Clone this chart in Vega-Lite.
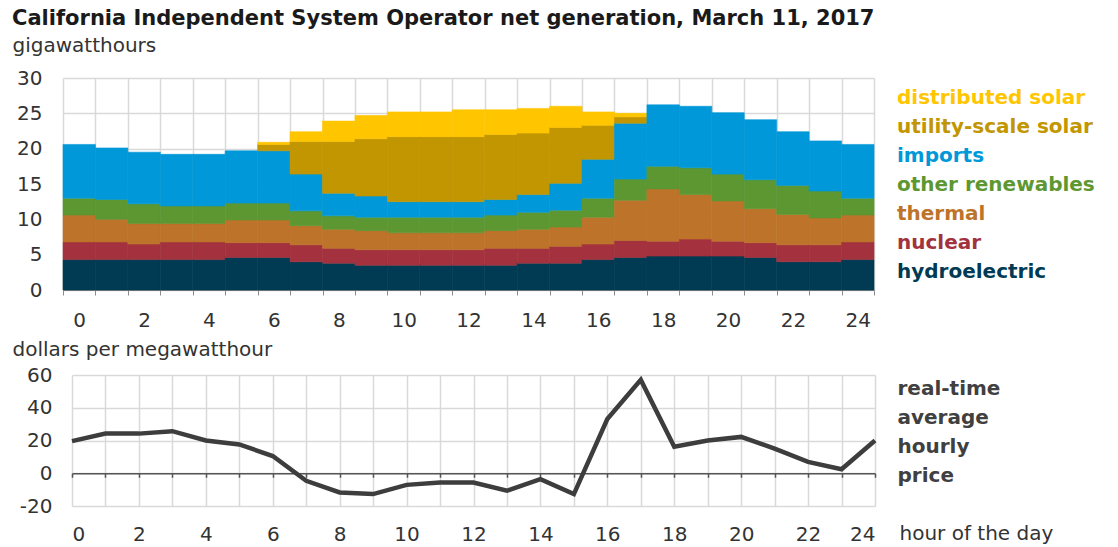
{
  "$schema": "https://vega.github.io/schema/vega-lite/v6.json",
  "padding": {"left": 12, "top": 8, "right": 5, "bottom": 0},
  "background": "white",
  "config": {"view": {"stroke": null}, "font": "DejaVu Sans"},
  "title": {"text": "California Independent System Operator net generation, March 11, 2017", "anchor": "start", "fontSize": 21, "fontWeight": "bold", "font": "DejaVu Sans", "color": "#1a1a1a", "offset": 6},
  "spacing": 9,
  "datasets": {
    "gen": [
      {"hour": 0, "source": "hydroelectric", "layer": 1, "gwh": 4.3}, {"hour": 0, "source": "nuclear", "layer": 2, "gwh": 2.5}, {"hour": 0, "source": "thermal", "layer": 3, "gwh": 3.8}, {"hour": 0, "source": "other renewables", "layer": 4, "gwh": 2.4}, {"hour": 0, "source": "imports", "layer": 5, "gwh": 7.6},
      {"hour": 1, "source": "hydroelectric", "layer": 1, "gwh": 4.3}, {"hour": 1, "source": "nuclear", "layer": 2, "gwh": 2.5}, {"hour": 1, "source": "thermal", "layer": 3, "gwh": 3.2}, {"hour": 1, "source": "other renewables", "layer": 4, "gwh": 2.8}, {"hour": 1, "source": "imports", "layer": 5, "gwh": 7.3},
      {"hour": 2, "source": "hydroelectric", "layer": 1, "gwh": 4.3}, {"hour": 2, "source": "nuclear", "layer": 2, "gwh": 2.2}, {"hour": 2, "source": "thermal", "layer": 3, "gwh": 2.9}, {"hour": 2, "source": "other renewables", "layer": 4, "gwh": 2.8}, {"hour": 2, "source": "imports", "layer": 5, "gwh": 7.3},
      {"hour": 3, "source": "hydroelectric", "layer": 1, "gwh": 4.3}, {"hour": 3, "source": "nuclear", "layer": 2, "gwh": 2.5}, {"hour": 3, "source": "thermal", "layer": 3, "gwh": 2.6}, {"hour": 3, "source": "other renewables", "layer": 4, "gwh": 2.5}, {"hour": 3, "source": "imports", "layer": 5, "gwh": 7.3},
      {"hour": 4, "source": "hydroelectric", "layer": 1, "gwh": 4.3}, {"hour": 4, "source": "nuclear", "layer": 2, "gwh": 2.5}, {"hour": 4, "source": "thermal", "layer": 3, "gwh": 2.6}, {"hour": 4, "source": "other renewables", "layer": 4, "gwh": 2.5}, {"hour": 4, "source": "imports", "layer": 5, "gwh": 7.3},
      {"hour": 5, "source": "hydroelectric", "layer": 1, "gwh": 4.6}, {"hour": 5, "source": "nuclear", "layer": 2, "gwh": 2.1}, {"hour": 5, "source": "thermal", "layer": 3, "gwh": 3.2}, {"hour": 5, "source": "other renewables", "layer": 4, "gwh": 2.4}, {"hour": 5, "source": "imports", "layer": 5, "gwh": 7.4},
      {"hour": 6, "source": "hydroelectric", "layer": 1, "gwh": 4.6}, {"hour": 6, "source": "nuclear", "layer": 2, "gwh": 2.1}, {"hour": 6, "source": "thermal", "layer": 3, "gwh": 3.2}, {"hour": 6, "source": "other renewables", "layer": 4, "gwh": 2.4}, {"hour": 6, "source": "imports", "layer": 5, "gwh": 7.4}, {"hour": 6, "source": "utility-scale solar", "layer": 6, "gwh": 0.9}, {"hour": 6, "source": "distributed solar", "layer": 7, "gwh": 0.3},
      {"hour": 7, "source": "hydroelectric", "layer": 1, "gwh": 4.0}, {"hour": 7, "source": "nuclear", "layer": 2, "gwh": 2.4}, {"hour": 7, "source": "thermal", "layer": 3, "gwh": 2.7}, {"hour": 7, "source": "other renewables", "layer": 4, "gwh": 2.1}, {"hour": 7, "source": "imports", "layer": 5, "gwh": 5.2}, {"hour": 7, "source": "utility-scale solar", "layer": 6, "gwh": 4.6}, {"hour": 7, "source": "distributed solar", "layer": 7, "gwh": 1.4},
      {"hour": 8, "source": "hydroelectric", "layer": 1, "gwh": 3.8}, {"hour": 8, "source": "nuclear", "layer": 2, "gwh": 2.1}, {"hour": 8, "source": "thermal", "layer": 3, "gwh": 2.7}, {"hour": 8, "source": "other renewables", "layer": 4, "gwh": 1.9}, {"hour": 8, "source": "imports", "layer": 5, "gwh": 3.2}, {"hour": 8, "source": "utility-scale solar", "layer": 6, "gwh": 7.3}, {"hour": 8, "source": "distributed solar", "layer": 7, "gwh": 2.9},
      {"hour": 9, "source": "hydroelectric", "layer": 1, "gwh": 3.5}, {"hour": 9, "source": "nuclear", "layer": 2, "gwh": 2.2}, {"hour": 9, "source": "thermal", "layer": 3, "gwh": 2.7}, {"hour": 9, "source": "other renewables", "layer": 4, "gwh": 1.9}, {"hour": 9, "source": "imports", "layer": 5, "gwh": 3.0}, {"hour": 9, "source": "utility-scale solar", "layer": 6, "gwh": 8.1}, {"hour": 9, "source": "distributed solar", "layer": 7, "gwh": 3.3},
      {"hour": 10, "source": "hydroelectric", "layer": 1, "gwh": 3.5}, {"hour": 10, "source": "nuclear", "layer": 2, "gwh": 2.2}, {"hour": 10, "source": "thermal", "layer": 3, "gwh": 2.4}, {"hour": 10, "source": "other renewables", "layer": 4, "gwh": 2.2}, {"hour": 10, "source": "imports", "layer": 5, "gwh": 2.2}, {"hour": 10, "source": "utility-scale solar", "layer": 6, "gwh": 9.2}, {"hour": 10, "source": "distributed solar", "layer": 7, "gwh": 3.5},
      {"hour": 11, "source": "hydroelectric", "layer": 1, "gwh": 3.5}, {"hour": 11, "source": "nuclear", "layer": 2, "gwh": 2.2}, {"hour": 11, "source": "thermal", "layer": 3, "gwh": 2.4}, {"hour": 11, "source": "other renewables", "layer": 4, "gwh": 2.2}, {"hour": 11, "source": "imports", "layer": 5, "gwh": 2.2}, {"hour": 11, "source": "utility-scale solar", "layer": 6, "gwh": 9.2}, {"hour": 11, "source": "distributed solar", "layer": 7, "gwh": 3.5},
      {"hour": 12, "source": "hydroelectric", "layer": 1, "gwh": 3.5}, {"hour": 12, "source": "nuclear", "layer": 2, "gwh": 2.2}, {"hour": 12, "source": "thermal", "layer": 3, "gwh": 2.4}, {"hour": 12, "source": "other renewables", "layer": 4, "gwh": 2.2}, {"hour": 12, "source": "imports", "layer": 5, "gwh": 2.2}, {"hour": 12, "source": "utility-scale solar", "layer": 6, "gwh": 9.2}, {"hour": 12, "source": "distributed solar", "layer": 7, "gwh": 3.8},
      {"hour": 13, "source": "hydroelectric", "layer": 1, "gwh": 3.5}, {"hour": 13, "source": "nuclear", "layer": 2, "gwh": 2.4}, {"hour": 13, "source": "thermal", "layer": 3, "gwh": 2.5}, {"hour": 13, "source": "other renewables", "layer": 4, "gwh": 2.2}, {"hour": 13, "source": "imports", "layer": 5, "gwh": 2.2}, {"hour": 13, "source": "utility-scale solar", "layer": 6, "gwh": 9.2}, {"hour": 13, "source": "distributed solar", "layer": 7, "gwh": 3.5},
      {"hour": 14, "source": "hydroelectric", "layer": 1, "gwh": 3.8}, {"hour": 14, "source": "nuclear", "layer": 2, "gwh": 2.1}, {"hour": 14, "source": "thermal", "layer": 3, "gwh": 2.7}, {"hour": 14, "source": "other renewables", "layer": 4, "gwh": 2.4}, {"hour": 14, "source": "imports", "layer": 5, "gwh": 2.5}, {"hour": 14, "source": "utility-scale solar", "layer": 6, "gwh": 8.7}, {"hour": 14, "source": "distributed solar", "layer": 7, "gwh": 3.5},
      {"hour": 15, "source": "hydroelectric", "layer": 1, "gwh": 3.8}, {"hour": 15, "source": "nuclear", "layer": 2, "gwh": 2.4}, {"hour": 15, "source": "thermal", "layer": 3, "gwh": 2.7}, {"hour": 15, "source": "other renewables", "layer": 4, "gwh": 2.4}, {"hour": 15, "source": "imports", "layer": 5, "gwh": 3.8}, {"hour": 15, "source": "utility-scale solar", "layer": 6, "gwh": 7.9}, {"hour": 15, "source": "distributed solar", "layer": 7, "gwh": 3.0},
      {"hour": 16, "source": "hydroelectric", "layer": 1, "gwh": 4.3}, {"hour": 16, "source": "nuclear", "layer": 2, "gwh": 2.2}, {"hour": 16, "source": "thermal", "layer": 3, "gwh": 3.8}, {"hour": 16, "source": "other renewables", "layer": 4, "gwh": 2.7}, {"hour": 16, "source": "imports", "layer": 5, "gwh": 5.5}, {"hour": 16, "source": "utility-scale solar", "layer": 6, "gwh": 4.8}, {"hour": 16, "source": "distributed solar", "layer": 7, "gwh": 1.9},
      {"hour": 17, "source": "hydroelectric", "layer": 1, "gwh": 4.6}, {"hour": 17, "source": "nuclear", "layer": 2, "gwh": 2.4}, {"hour": 17, "source": "thermal", "layer": 3, "gwh": 5.7}, {"hour": 17, "source": "other renewables", "layer": 4, "gwh": 3.0}, {"hour": 17, "source": "imports", "layer": 5, "gwh": 7.9}, {"hour": 17, "source": "utility-scale solar", "layer": 6, "gwh": 0.9}, {"hour": 17, "source": "distributed solar", "layer": 7, "gwh": 0.5},
      {"hour": 18, "source": "hydroelectric", "layer": 1, "gwh": 4.8}, {"hour": 18, "source": "nuclear", "layer": 2, "gwh": 2.1}, {"hour": 18, "source": "thermal", "layer": 3, "gwh": 7.4}, {"hour": 18, "source": "other renewables", "layer": 4, "gwh": 3.2}, {"hour": 18, "source": "imports", "layer": 5, "gwh": 8.7},
      {"hour": 19, "source": "hydroelectric", "layer": 1, "gwh": 4.8}, {"hour": 19, "source": "nuclear", "layer": 2, "gwh": 2.4}, {"hour": 19, "source": "thermal", "layer": 3, "gwh": 6.3}, {"hour": 19, "source": "other renewables", "layer": 4, "gwh": 3.8}, {"hour": 19, "source": "imports", "layer": 5, "gwh": 8.7},
      {"hour": 20, "source": "hydroelectric", "layer": 1, "gwh": 4.8}, {"hour": 20, "source": "nuclear", "layer": 2, "gwh": 2.1}, {"hour": 20, "source": "thermal", "layer": 3, "gwh": 5.7}, {"hour": 20, "source": "other renewables", "layer": 4, "gwh": 3.8}, {"hour": 20, "source": "imports", "layer": 5, "gwh": 8.7},
      {"hour": 21, "source": "hydroelectric", "layer": 1, "gwh": 4.6}, {"hour": 21, "source": "nuclear", "layer": 2, "gwh": 2.1}, {"hour": 21, "source": "thermal", "layer": 3, "gwh": 4.8}, {"hour": 21, "source": "other renewables", "layer": 4, "gwh": 4.1}, {"hour": 21, "source": "imports", "layer": 5, "gwh": 8.5},
      {"hour": 22, "source": "hydroelectric", "layer": 1, "gwh": 4.0}, {"hour": 22, "source": "nuclear", "layer": 2, "gwh": 2.4}, {"hour": 22, "source": "thermal", "layer": 3, "gwh": 4.3}, {"hour": 22, "source": "other renewables", "layer": 4, "gwh": 4.1}, {"hour": 22, "source": "imports", "layer": 5, "gwh": 7.6},
      {"hour": 23, "source": "hydroelectric", "layer": 1, "gwh": 4.0}, {"hour": 23, "source": "nuclear", "layer": 2, "gwh": 2.4}, {"hour": 23, "source": "thermal", "layer": 3, "gwh": 3.8}, {"hour": 23, "source": "other renewables", "layer": 4, "gwh": 3.8}, {"hour": 23, "source": "imports", "layer": 5, "gwh": 7.1},
      {"hour": 24, "source": "hydroelectric", "layer": 1, "gwh": 4.3}, {"hour": 24, "source": "nuclear", "layer": 2, "gwh": 2.5}, {"hour": 24, "source": "thermal", "layer": 3, "gwh": 3.8}, {"hour": 24, "source": "other renewables", "layer": 4, "gwh": 2.4}, {"hour": 24, "source": "imports", "layer": 5, "gwh": 7.6}
    ],
    "price": [
      {"hour": 0, "price": 19.6}, {"hour": 1, "price": 24.2}, {"hour": 2, "price": 24.2}, {"hour": 3, "price": 25.7},
      {"hour": 4, "price": 20.0}, {"hour": 5, "price": 17.6}, {"hour": 6, "price": 10.5}, {"hour": 7, "price": -4.6},
      {"hour": 8, "price": -11.7}, {"hour": 9, "price": -12.7}, {"hour": 10, "price": -7.1}, {"hour": 11, "price": -5.7},
      {"hour": 12, "price": -5.7}, {"hour": 13, "price": -10.7}, {"hour": 14, "price": -3.6}, {"hour": 15, "price": -12.7},
      {"hour": 16, "price": 33.1}, {"hour": 17, "price": 57.0}, {"hour": 18, "price": 16.2}, {"hour": 19, "price": 20.0},
      {"hour": 20, "price": 22.2}, {"hour": 21, "price": 15.0}, {"hour": 22, "price": 6.9}, {"hour": 23, "price": 2.4},
      {"hour": 24, "price": 20.0}
    ]
  },
  "vconcat": [
    {
      "width": 811,
      "height": 212,
      "data": {"name": "gen"},
      "mark": {"type": "bar", "strokeWidth": 0.6},
      "encoding": {
        "x": {
          "field": "hour", "type": "ordinal",
          "scale": {"paddingInner": 0, "paddingOuter": 0},
          "axis": {
            "tickBand": "extent", "labelAngle": 0,
            "labelExpr": "datum.value % 2 === 0 ? datum.label : ''",
            "title": null, "domainColor": "#8c8c8c", "tickColor": "#8c8c8c", "tickSize": 5,
            "labelFont": "DejaVu Sans", "labelFontSize": 20, "labelColor": "#333333", "labelPadding": 15,
            "grid": true, "gridColor": "#d9d9d9", "gridWidth": 1.5
          }
        },
        "y": {
          "field": "gwh", "type": "quantitative", "stack": "zero",
          "scale": {"domain": [0, 30], "nice": false},
          "axis": {
            "values": [0, 5, 10, 15, 20, 25, 30], "ticks": false, "domain": false,
            "gridColor": "#d9d9d9", "gridWidth": 1.5,
            "labelFont": "DejaVu Sans", "labelFontSize": 20, "labelColor": "#333333", "labelPadding": 21,
            "title": "gigawatthours", "titleAngle": 0, "titleAlign": "left", "titleBaseline": "alphabetic",
            "titleX": -51, "titleY": -27, "titleFont": "DejaVu Sans", "titleFontSize": 20, "titleFontWeight": "normal", "titleColor": "#333333"
          }
        },
        "color": {
          "field": "source", "type": "nominal",
          "scale": {
            "domain": ["distributed solar", "utility-scale solar", "imports", "other renewables", "thermal", "nuclear", "hydroelectric"],
            "range": ["#ffc600", "#c29600", "#0098d8", "#5d9732", "#bd732a", "#a3323e", "#003a53"]
          },
          "legend": {
            "orient": "none", "legendX": 814, "legendY": 10, "title": null,
            "symbolSize": 0, "symbolStrokeWidth": 0, "symbolOpacity": 0, "labelOffset": 0,
            "labelFont": "DejaVu Sans", "labelFontSize": 20, "labelFontWeight": "bold", "labelLimit": 400, "rowPadding": 9,
            "encode": {"labels": {"update": {"fill": {"signal": "{'distributed solar':'#ffc600','utility-scale solar':'#c29600','imports':'#0098d8','other renewables':'#5d9732','thermal':'#bd732a','nuclear':'#a3323e','hydroelectric':'#003a53'}[datum.value]"}}}}
          }
        },
        "stroke": {
          "field": "source", "type": "nominal",
          "scale": {
            "domain": ["distributed solar", "utility-scale solar", "imports", "other renewables", "thermal", "nuclear", "hydroelectric"],
            "range": ["#ffc600", "#c29600", "#0098d8", "#5d9732", "#bd732a", "#a3323e", "#003a53"]
          },
          "legend": null
        },
        "order": {"field": "layer", "type": "quantitative"}
      }
    },
    {
      "width": 812,
      "height": 131,
      "data": {"name": "price"},
      "layer": [
        {
          "mark": {"type": "line", "color": "#3d3d3d", "strokeWidth": 4.5},
          "encoding": {
            "x": {
              "field": "hour", "type": "quantitative",
              "scale": {"domain": [0, 24], "nice": false, "range": [9, 812]},
              "axis": {
                "values": [0,1,2,3,4,5,6,7,8,9,10,11,12,13,14,15,16,17,18,19,20,21,22,23,24],
                "labelExpr": "datum.value % 2 === 0 ? datum.label : ''", "labelOverlap": false,
                "domain": false, "ticks": false, "grid": true, "gridColor": "#d9d9d9", "gridWidth": 1.5,
                "labelFont": "DejaVu Sans", "labelFontSize": 20, "labelColor": "#333333", "labelPadding": 18,
                "title": "hour of the day", "titleAlign": "left", "titleAnchor": "start", "titleX": 836, "titleY": 33, "titleBaseline": "alphabetic",
                "titleFont": "DejaVu Sans", "titleFontSize": 20, "titleFontWeight": "normal", "titleColor": "#333333"
              }
            },
            "y": {
              "field": "price", "type": "quantitative",
              "scale": {"domain": [-20, 60], "nice": false},
              "axis": {
                "values": [-20, 0, 20, 40, 60], "ticks": false, "domain": false,
                "labelExpr": "replace(datum.label, '\u2212', '-')",
                "gridColor": "#d9d9d9", "gridWidth": 1.5,
                "labelFont": "DejaVu Sans", "labelFontSize": 20, "labelColor": "#333333", "labelPadding": 11,
                "title": "dollars per megawatthour", "titleAngle": 0, "titleAlign": "left", "titleBaseline": "alphabetic",
                "titleX": -51, "titleY": -20, "titleFont": "DejaVu Sans", "titleFontSize": 20, "titleFontWeight": "normal", "titleColor": "#333333"
              }
            }
          }
        },
        {
          "mark": {"type": "line", "opacity": 0},
          "encoding": {
            "x": {
              "field": "hour", "type": "quantitative",
              "axis": {
                "orient": "bottom", "offset": -32.75,
                "values": [0,1,2,3,4,5,6,7,8,9,10,11,12,13,14,15,16,17,18,19,20,21,22,23,24],
                "labels": false, "grid": false, "domain": true, "domainColor": "#555555", "domainWidth": 1.5,
                "ticks": true, "tickSize": 4, "tickColor": "#555555", "tickWidth": 1.5, "title": null
              }
            },
            "y": {
              "field": "price", "type": "quantitative",
              "axis": {
                "orient": "right", "labels": false, "ticks": false, "domain": false, "grid": false,
                "title": ["real-time", "average", "hourly", "price"], "titleAngle": 0, "titleAlign": "left", "titleBaseline": "top",
                "titleX": 22, "titleY": 3, "titleLineHeight": 29,
                "titleFont": "DejaVu Sans", "titleFontSize": 20, "titleFontWeight": "bold", "titleColor": "#404040"
              }
            }
          }
        }
      ],
      "resolve": {"axis": {"x": "independent", "y": "independent"}}
    }
  ]
}
